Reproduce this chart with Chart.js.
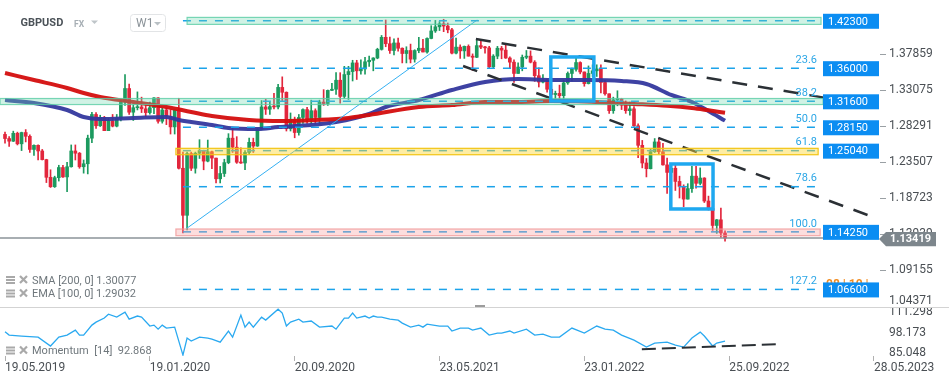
<!DOCTYPE html>
<html>
<head>
<meta charset="utf-8">
<script src="https://cdn.jsdelivr.net/npm/chart.js@4.4.1/dist/chart.umd.min.js"></script>
<style>
  html, body { margin: 0; padding: 0; background: #fff; }
  #wrap { position: relative; width: 949px; height: 384px; overflow: hidden; }
  #main { position: absolute; left: 0; top: 0; }
  #mom { position: absolute; left: 0; top: 307px; }
</style>
</head>
<body>
<div id="wrap">
  <canvas id="main" width="949" height="307"></canvas>
  <canvas id="mom" width="949" height="77"></canvas>
</div>
<script>
// weekly GBPUSD candles, week 0 = 19.05.2019
const opens = [
  1.2720,1.2665,1.2630,1.2735,1.2595,1.2745,1.2695,1.2520,1.2575,1.2500,
  1.2385,1.2150,1.2025,1.2145,1.2280,1.2155,1.2290,1.2500,1.2470,1.2290,
  1.2330,1.2670,1.2985,1.2835,1.2945,1.2770,1.2900,1.2830,1.2935,1.3150,
  1.3330,1.3015,1.3075,1.3085,1.3060,1.3010,1.3075,1.3205,1.2895,1.3045,
  1.2960,1.2820,1.3045,1.2270,1.1645,1.2465,1.2270,1.2470,1.2505,1.2365,
  1.2490,1.2405,1.2130,1.2200,1.2345,1.2670,1.2550,1.2350,1.2340,1.2480,
  1.2615,1.2565,1.2790,1.3085,1.3055,1.3090,1.3085,1.3345,1.3280,1.2795,
  1.2920,1.2745,1.2945,1.3050,1.2915,1.3035,1.2945,1.3150,1.3130,1.3305,
  1.3320,1.3440,1.3225,1.3515,1.3555,1.3670,1.3565,1.3590,1.3685,1.3705,
  1.3735,1.3850,1.4010,1.3925,1.3835,1.3935,1.3865,1.3795,1.3835,1.3720,
  1.3835,1.3865,1.3815,1.3995,1.4095,1.4150,1.4190,1.4160,1.4110,1.3800,
  1.3880,1.3830,1.3890,1.3760,1.3745,1.3900,1.3880,1.3870,1.3620,1.3760,
  1.3865,1.3840,1.3735,1.3680,1.3530,1.3615,1.3745,1.3760,1.3680,1.3500,
  1.3415,1.3440,1.3320,1.3250,1.3265,1.3235,1.3405,1.3530,1.3585,1.3675,
  1.3550,1.3395,1.3530,1.3565,1.3590,1.3410,1.3260,1.3035,1.3180,1.3190,
  1.3110,1.3035,1.3060,1.2835,1.2575,1.2340,1.2265,1.2490,1.2620,1.2490,
  1.2315,1.2215,1.2270,1.2095,1.2030,1.1860,1.2000,1.2165,1.2070,1.2140,
  1.1835,1.1735,1.1510,1.1585,1.1410
];
const highs = [
  1.2750,1.2690,1.2763,1.2750,1.2750,1.2784,1.2715,1.2580,1.2580,1.2520,
  1.2390,1.2250,1.2165,1.2310,1.2310,1.2350,1.2580,1.2580,1.2480,1.2380,
  1.2710,1.3012,1.3010,1.2975,1.2960,1.2930,1.2985,1.2985,1.3180,1.3515,
  1.3390,1.3115,1.3285,1.3215,1.3118,1.3150,1.3210,1.3210,1.3070,1.3070,
  1.3050,1.3050,1.3200,1.2485,1.2485,1.2485,1.2485,1.2650,1.2510,1.2645,
  1.2500,1.2405,1.2295,1.2390,1.2730,1.2815,1.2690,1.2540,1.2505,1.2670,
  1.2670,1.2800,1.3170,1.3185,1.3145,1.3265,1.3385,1.3485,1.3285,1.3005,
  1.2950,1.2985,1.3060,1.3080,1.3175,1.3060,1.3175,1.3315,1.3310,1.3400,
  1.3540,1.3540,1.3625,1.3625,1.3705,1.3705,1.3710,1.3745,1.3760,1.3740,
  1.3865,1.4035,1.4240,1.4015,1.3990,1.4000,1.3870,1.3885,1.3920,1.3845,
  1.4010,1.3985,1.4005,1.4165,1.4235,1.4220,1.4250,1.4200,1.4130,1.4000,
  1.3910,1.3895,1.3910,1.3790,1.3985,1.3960,1.3890,1.3890,1.3780,1.3890,
  1.3890,1.3910,1.3750,1.3710,1.3670,1.3775,1.3835,1.3830,1.3700,1.3605,
  1.3515,1.3455,1.3370,1.3295,1.3375,1.3440,1.3550,1.3600,1.3750,1.3685,
  1.3550,1.3630,1.3645,1.3645,1.3645,1.3440,1.3260,1.3215,1.3300,1.3200,
  1.3165,1.3150,1.3090,1.2860,1.2640,1.2400,1.2525,1.2665,1.2665,1.2600,
  1.2405,1.2325,1.2335,1.2165,1.2050,1.2065,1.2295,1.2295,1.2275,1.2145,
  1.1900,1.1760,1.1590,1.1740,1.1440
];
const lows = [
  1.2605,1.2560,1.2625,1.2580,1.2505,1.2620,1.2480,1.2440,1.2380,1.2380,
  1.2080,1.2015,1.2015,1.2100,1.2150,1.1960,1.2285,1.2380,1.2270,1.2205,
  1.2195,1.2610,1.2800,1.2825,1.2770,1.2770,1.2820,1.2820,1.2900,1.3105,
  1.2985,1.2905,1.3045,1.3010,1.2955,1.2990,1.2995,1.2870,1.2870,1.2850,
  1.2725,1.2725,1.2260,1.1410,1.1450,1.2240,1.2205,1.2400,1.2250,1.2355,
  1.2265,1.2075,1.2075,1.2160,1.2330,1.2480,1.2335,1.2335,1.2250,1.2450,
  1.2480,1.2560,1.2780,1.2985,1.2985,1.3060,1.3060,1.3170,1.2765,1.2765,
  1.2675,1.2710,1.2865,1.2865,1.2865,1.2855,1.2855,1.3105,1.3105,1.3300,
  1.3250,1.3135,1.3200,1.3185,1.3430,1.3450,1.3520,1.3520,1.3625,1.3565,
  1.3725,1.3840,1.3885,1.3795,1.3775,1.3825,1.3670,1.3670,1.3670,1.3680,
  1.3805,1.3815,1.3800,1.3990,1.4075,1.4100,1.4085,1.4070,1.3790,1.3790,
  1.3730,1.3730,1.3760,1.3570,1.3740,1.3860,1.3800,1.3600,1.3600,1.3725,
  1.3725,1.3730,1.3600,1.3410,1.3530,1.3565,1.3725,1.3670,1.3425,1.3350,
  1.3405,1.3280,1.3195,1.3160,1.3160,1.3170,1.3385,1.3430,1.3560,1.3525,
  1.3360,1.3390,1.3490,1.3490,1.3270,1.3240,1.3000,1.3000,1.3100,1.3050,
  1.3000,1.2975,1.2825,1.2410,1.2275,1.2155,1.2260,1.2480,1.2460,1.2310,
  1.1935,1.2160,1.1975,1.1875,1.1760,1.1860,1.1950,1.2005,1.2050,1.1815,
  1.1715,1.1445,1.1405,1.1350,1.1300
];
const closes = [
  1.2665,1.2630,1.2735,1.2595,1.2745,1.2695,1.2520,1.2575,1.2500,1.2385,
  1.2150,1.2025,1.2145,1.2280,1.2155,1.2290,1.2500,1.2470,1.2290,1.2330,
  1.2670,1.2985,1.2835,1.2945,1.2770,1.2900,1.2830,1.2935,1.3150,1.3330,
  1.3015,1.3075,1.3085,1.3060,1.3010,1.3075,1.3205,1.2895,1.3045,1.2960,
  1.2820,1.3045,1.2270,1.1645,1.2465,1.2270,1.2470,1.2505,1.2365,1.2490,
  1.2405,1.2130,1.2200,1.2345,1.2670,1.2550,1.2350,1.2340,1.2480,1.2615,
  1.2565,1.2790,1.3085,1.3055,1.3090,1.3085,1.3345,1.3280,1.2795,1.2920,
  1.2745,1.2945,1.3050,1.2915,1.3035,1.2945,1.3150,1.3130,1.3305,1.3320,
  1.3440,1.3225,1.3515,1.3555,1.3670,1.3565,1.3590,1.3685,1.3705,1.3735,
  1.3850,1.4010,1.3925,1.3835,1.3935,1.3865,1.3795,1.3835,1.3720,1.3835,
  1.3865,1.3815,1.3995,1.4095,1.4150,1.4190,1.4160,1.4110,1.3800,1.3880,
  1.3830,1.3890,1.3760,1.3745,1.3900,1.3880,1.3870,1.3620,1.3760,1.3865,
  1.3840,1.3735,1.3680,1.3530,1.3615,1.3745,1.3760,1.3680,1.3500,1.3415,
  1.3440,1.3320,1.3250,1.3265,1.3235,1.3405,1.3530,1.3585,1.3675,1.3550,
  1.3395,1.3530,1.3565,1.3590,1.3410,1.3260,1.3035,1.3180,1.3190,1.3110,
  1.3035,1.3060,1.2835,1.2575,1.2340,1.2265,1.2490,1.2620,1.2490,1.2315,
  1.2215,1.2270,1.2095,1.2030,1.1860,1.2000,1.2165,1.2070,1.2140,1.1835,
  1.1735,1.1510,1.1585,1.1410,1.13419
];

// moving averages (week, price)
const smaWeeks  = [0,7,15,19,23,31,39,45,50,59,67,75,83,88,100,108,116,124,132,140,152,160,166,170,174];
const smaValues = [1.3536,1.3443,1.3337,1.3270,1.3217,1.3151,1.3084,1.3018,1.2965,1.2911,1.2898,1.2911,1.2938,1.2978,1.3084,1.3111,1.3151,1.3151,1.3164,1.3158,1.3125,1.3100,1.3070,1.3040,1.3008];
const emaWeeks  = [0,7,15,19,23,31,39,42,45,50,54,61,66,74,80,88,92,100,108,116,124,132,141,149,155,161,166,170,174];
const emaValues = [1.3176,1.3137,1.3044,1.2951,1.2925,1.2938,1.2951,1.2911,1.2885,1.2845,1.2805,1.2792,1.2818,1.2845,1.2885,1.2991,1.3084,1.3177,1.3310,1.3417,1.3456,1.3443,1.3443,1.3430,1.3390,1.3244,1.3151,1.3031,1.2903];

// momentum [14]
const momWeeks  = [0,1,4,7,8,11,13,15,17,18,19,21,22,24,25,27,29,30,32,33,35,36,37,38,39,41,43,44,45,47,49,50,52,54,55,57,58,59,60,62,63,66,67,68,69,71,72,74,76,79,80,82,83,84,85,87,88,89,90,91,93,95,96,98,100,101,102,105,107,108,110,112,113,115,117,119,120,122,123,126,128,130,132,134,137,140,143,145,147,149,152,155,157,160,162,164,166,168,169,171,172,174];
const momValues = [98.8,96.7,96.1,95.6,95.4,89.7,95.4,96.7,99.9,96.7,96.7,103.1,105.0,107.6,110.1,108.2,111.4,106.9,108.9,108.2,102.5,103.1,100.5,103.1,101.2,101.8,83.9,94.8,92.9,95.4,94.8,94.1,92.2,99.3,95.4,109.5,101.8,105.0,101.8,108.2,106.3,113.3,110.8,102.5,105.0,106.9,105.0,105.7,101.8,102.5,100.5,107.6,107.6,110.8,107.6,108.9,107.6,108.9,108.2,108.2,106.9,106.3,104.4,101.8,103.1,101.8,103.7,102.5,102.5,99.3,101.2,101.2,99.9,101.2,96.7,98.0,98.0,99.3,98.0,100.5,96.7,97.3,95.4,95.4,101.2,98.0,102.5,100.5,99.9,96.7,93.5,89.0,91.6,92.2,90.3,89.0,94.8,98.6,96.1,89.7,91.6,92.9];

// drawn objects (week, price)
const riseLineW = [43.7, 114.1],  riseLineP = [1.1463, 1.4241];
const upperLineW = [113.8, 211.4], upperLineP = [1.3988, 1.3084];
const lowerLineW = [110.7, 209.8], lowerLineP = [1.3629, 1.1622];
const momLineW = [153.9, 187.3],  momLineV = [87.7, 90.9];

const fibLevels = [1.4230, 1.3600, 1.3160, 1.2815, 1.2504, 1.2025, 1.1425, 1.0660];
const fibNames  = ['', '23.6', '38.2', '50.0', '61.8', '78.6', '100.0', '127.2'];
const fibBoxes  = ['1.42300', '1.36000', '1.31600', '1.28150', '1.25040', '', '1.14250', '1.06600'];

const zoneFrom = [44, -1.2, 41.3, 41.3];
const zoneTo   = [197.2, 197.7, 196.5, 197];
const zoneHi   = [1.4275, 1.3197, 1.2535, 1.1463];
const zoneLo   = [1.4182, 1.3117, 1.2450, 1.1374];

const boxW1 = [131.9, 142.3], boxP1 = [1.3749, 1.3164];
const boxW2 = [160.9, 171.1], boxP2 = [1.2327, 1.1729];

const lastPrice = 1.13419;
const priceTicks = [1.04371, 1.09155, 1.13939, 1.18723, 1.23507, 1.28291, 1.33075, 1.37859];
const momTicks = [85.048, 98.173, 111.298];
const dateTicks = [0, 35, 70, 105, 140, 175, 210];
const dateLabels = ['19.05.2019', '19.01.2020', '20.09.2020', '23.05.2021', '23.01.2022', '25.09.2022', '28.05.2023'];

const GREEN = '#1c9a5f', RED = '#e2263c';
const X_MIN = -1.21, X_MAX = 211.45;

Chart.defaults.font.family = 'Roboto';
Chart.defaults.font.size = 12;

const pts = (ws, vs) => ws.map((w, i) => ({ x: w, y: vs[i] }));
const candleColor = ctx => closes[ctx.dataIndex] >= opens[ctx.dataIndex] ? GREEN : RED;

function axisFit(s) {
  s.width = 69;
  s.paddingTop = 0;
  s.paddingBottom = 0;
}

function tri(ctx, x, y, w, h, color) {
  ctx.fillStyle = color;
  ctx.beginPath();
  ctx.moveTo(x, y);
  ctx.lineTo(x + w, y);
  ctx.lineTo(x + w / 2, y + h);
  ctx.closePath();
  ctx.fill();
}

function legendIcons(ctx, y) {
  ctx.fillStyle = '#a9a9a9';
  ctx.fillRect(6, y - 4, 9, 2);
  ctx.fillRect(6, y - 1, 9, 2);
  ctx.fillRect(6, y + 2, 9, 2);
  ctx.strokeStyle = '#a9a9a9';
  ctx.lineWidth = 2.2;
  ctx.beginPath();
  ctx.moveTo(20, y - 4); ctx.lineTo(27, y + 3);
  ctx.moveTo(27, y - 4); ctx.lineTo(20, y + 3);
  ctx.stroke();
}

const mainOverlay = {
  id: 'mainOverlay',
  afterDatasetsDraw(chart) {
    const { ctx, scales: { x, y } } = chart;
    const X = v => x.getPixelForValue(v);
    const Y = v => y.getPixelForValue(v);
    ctx.save();

    // fibonacci levels
    ctx.setLineDash([8, 8]);
    ctx.lineWidth = 1.5;
    ctx.strokeStyle = '#1ca3ea';
    fibLevels.forEach(p => {
      ctx.beginPath();
      ctx.moveTo(X(43), Y(p));
      ctx.lineTo(818, Y(p));
      ctx.stroke();
    });
    ctx.setLineDash([]);

    // zones
    const fills = ['rgba(110,215,175,0.32)', 'rgba(110,215,175,0.32)', 'rgba(252,215,50,0.45)', 'rgba(245,150,150,0.32)'];
    const strokes = ['rgba(90,205,165,0.8)', 'rgba(90,205,165,0.8)', '#f3c515', 'rgba(240,150,150,0.8)'];
    zoneFrom.forEach((f, i) => {
      const x0 = X(f), x1 = X(zoneTo[i]), y0 = Y(zoneHi[i]), y1 = Y(zoneLo[i]);
      ctx.fillStyle = fills[i];
      ctx.fillRect(x0, y0, x1 - x0, y1 - y0);
      ctx.strokeStyle = strokes[i];
      ctx.lineWidth = 1.2;
      ctx.strokeRect(x0, y0, x1 - x0, y1 - y0);
    });

    // last price line
    ctx.strokeStyle = '#8b9398';
    ctx.lineWidth = 1.5;
    ctx.beginPath();
    ctx.moveTo(0, Y(lastPrice));
    ctx.lineTo(879, Y(lastPrice));
    ctx.stroke();

    // highlight boxes
    ctx.strokeStyle = '#1ea8f0';
    ctx.lineWidth = 3.5;
    [[boxW1, boxP1], [boxW2, boxP2]].forEach(([w, p]) => {
      ctx.strokeRect(X(w[0]), Y(p[0]), X(w[1]) - X(w[0]), Y(p[1]) - Y(p[0]));
    });

    // fib names
    ctx.font = '11px Roboto';
    ctx.textBaseline = 'middle';
    ctx.textAlign = 'right';
    ctx.fillStyle = '#2ba6e6';
    fibLevels.forEach((p, i) => {
      if (fibNames[i]) ctx.fillText(fibNames[i], 817, Y(p) - 8);
    });

    // price boxes
    ctx.textAlign = 'left';
    ctx.font = 'bold 12px Roboto';
    ctx.fillStyle = '#f18b1f';
    ctx.fillText('08 | 10 |', 826, Y(1.0660) - 4);
    ctx.font = '11px Roboto';
    fibLevels.forEach((p, i) => {
      if (!fibBoxes[i]) return;
      const cy = Y(p) + 0.5;
      ctx.fillStyle = '#0b8df2';
      ctx.fillRect(823, cy - 7.5, 56, 15);
      ctx.fillStyle = '#ffffff';
      ctx.fillText(fibBoxes[i], 828, cy + 0.5);
    });

    // bottom tick label (kept inside the panel)
    ctx.fillStyle = '#4a4f54';
    ctx.font = '12px Roboto';
    ctx.fillText(priceTicks[0].toFixed(5), 889, 300.5);

    // last price tag
    const ly = Y(lastPrice) + 1;
    ctx.fillStyle = '#7d868c';
    ctx.beginPath();
    ctx.moveTo(879, ly);
    ctx.lineTo(886, ly - 7.2);
    ctx.lineTo(936, ly - 7.2);
    ctx.lineTo(936, ly + 7.2);
    ctx.lineTo(886, ly + 7.2);
    ctx.closePath();
    ctx.fill();
    ctx.fillStyle = '#ffffff';
    ctx.font = 'bold 11px Roboto';
    ctx.fillText(lastPrice.toFixed(5), 890, ly + 0.5);

    // header
    ctx.fillStyle = '#4b5258';
    ctx.font = 'bold 11px Roboto';
    ctx.fillText('GBPUSD', 20.5, 23.5);
    ctx.fillStyle = '#a6aeb4';
    ctx.font = 'bold 8.5px Roboto';
    ctx.fillText('FX', 74, 24.5);
    tri(ctx, 91, 20.5, 7, 3.5, '#bfc5c9');
    ctx.strokeStyle = '#e2e4e6';
    ctx.lineWidth = 1;
    ctx.beginPath();
    ctx.roundRect(130.5, 14.5, 35, 17, 3);
    ctx.stroke();
    ctx.fillStyle = '#8a9298';
    ctx.font = '12px Roboto';
    ctx.fillText('W1', 136, 23.5);
    tri(ctx, 154, 22, 7, 3.5, '#b9c0c4');

    // indicator legend
    ctx.fillStyle = '#6f777c';
    ctx.font = '11px Roboto';
    legendIcons(ctx, 280);
    ctx.fillStyle = '#6f777c';
    ctx.fillText('SMA [200, 0] 1.30077', 32, 281);
    legendIcons(ctx, 293.5);
    ctx.fillStyle = '#6f777c';
    ctx.fillText('EMA [100, 0] 1.29032', 32, 294.5);

    // panel handle
    ctx.fillStyle = '#9c9c9c';
    ctx.fillRect(475, 305, 10, 2);
    ctx.restore();
  }
};

new Chart(document.getElementById('main'), {
  type: 'bar',
  data: {
    datasets: [
      { type: 'line', data: pts(riseLineW, riseLineP), borderColor: '#35b0f2', borderWidth: 1, pointRadius: 0, order: 1 },
      { type: 'line', data: pts(upperLineW, upperLineP), borderColor: '#2b3035', borderWidth: 2.5, borderDash: [15, 11], pointRadius: 0, order: 1 },
      { type: 'line', data: pts(lowerLineW, lowerLineP), borderColor: '#2b3035', borderWidth: 2.5, borderDash: [15, 11], pointRadius: 0, order: 1 },
      { type: 'line', data: pts(smaWeeks, smaValues), borderColor: 'rgba(212,14,14,0.95)', borderWidth: 4, pointRadius: 0, cubicInterpolationMode: 'monotone', order: 2 },
      { type: 'line', data: pts(emaWeeks, emaValues), borderColor: 'rgba(52,56,158,0.95)', borderWidth: 4, pointRadius: 0, cubicInterpolationMode: 'monotone', order: 2 },
      { data: opens.map((o, i) => ({ x: i, y: [lows[i], highs[i]] })), backgroundColor: candleColor, barThickness: 1, grouped: false, order: 4 },
      { data: opens.map((o, i) => ({ x: i, y: [o, closes[i]] })), backgroundColor: candleColor, barThickness: 3, minBarLength: 1, grouped: false, order: 3 }
    ]
  },
  options: {
    responsive: false,
    animation: false,
    devicePixelRatio: 1,
    layout: { padding: 0 },
    plugins: { legend: { display: false }, tooltip: { enabled: false } },
    scales: {
      x: { type: 'linear', min: X_MIN, max: X_MAX, offset: false, display: false },
      y: {
        position: 'right',
        min: 1.04264,
        max: 1.45061,
        afterFit: axisFit,
        afterBuildTicks: s => { s.ticks = priceTicks.slice(1).map(v => ({ value: v })); },
        ticks: { callback: v => v.toFixed(5), color: '#4a4f54', padding: 3, autoSkip: false },
        grid: { drawOnChartArea: false, drawTicks: true, tickLength: 6, tickColor: '#9aa0a4' },
        border: { display: false }
      }
    }
  },
  plugins: [mainOverlay]
});

const momOverlay = {
  id: 'momOverlay',
  afterDatasetsDraw(chart) {
    const { ctx } = chart;
    ctx.save();
    ctx.strokeStyle = '#d3d3d3';
    ctx.lineWidth = 1;
    ctx.beginPath();
    ctx.moveTo(0, 0.5);
    ctx.lineTo(949, 0.5);
    ctx.stroke();
    legendIcons(ctx, 43.5);
    ctx.fillStyle = '#6f777c';
    ctx.font = '11px Roboto';
    ctx.textBaseline = 'middle';
    ctx.textAlign = 'left';
    ctx.fillText('Momentum  [14]  92.868', 32, 44.5);
    ctx.restore();
  }
};

new Chart(document.getElementById('mom'), {
  type: 'line',
  data: {
    datasets: [
      { data: pts(momLineW, momLineV), borderColor: '#2b3035', borderWidth: 2, borderDash: [14, 6], pointRadius: 0 },
      { data: pts(momWeeks, momValues), borderColor: '#2aa9f0', borderWidth: 1.3, pointRadius: 0 }
    ]
  },
  options: {
    responsive: false,
    animation: false,
    devicePixelRatio: 1,
    layout: { padding: 0 },
    plugins: { legend: { display: false }, tooltip: { enabled: false } },
    scales: {
      x: {
        type: 'linear', min: X_MIN, max: X_MAX, offset: false,
        afterFit: s => { s.height = 28; s.paddingLeft = 0; s.paddingRight = 0; },
        afterBuildTicks: s => { s.ticks = dateTicks.map(v => ({ value: v })); },
        ticks: { callback: (v, i) => dateLabels[i], align: 'start', color: '#4a4f54', padding: 0, autoSkip: false, maxRotation: 0 },
        grid: { drawOnChartArea: false, drawTicks: true, tickLength: 5, tickColor: '#b0b0b0' },
        border: { display: false }
      },
      y: {
        position: 'right',
        min: 83.32,
        max: 114.69,
        afterFit: axisFit,
        afterBuildTicks: s => { s.ticks = momTicks.map(v => ({ value: v })); },
        ticks: { callback: v => v.toFixed(3), color: '#4a4f54', padding: 3, autoSkip: false },
        grid: { drawOnChartArea: false, drawTicks: true, tickLength: 6, tickColor: 'rgba(0,0,0,0)' },
        border: { display: false }
      }
    }
  },
  plugins: [momOverlay]
});
</script>
</body>
</html>
